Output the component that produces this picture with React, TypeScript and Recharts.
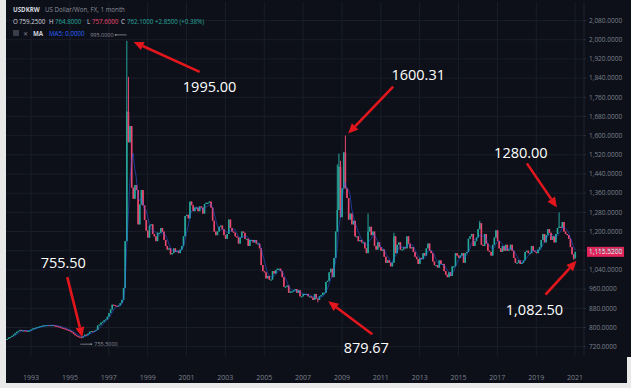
import React from 'react';
import { ComposedChart, Bar, Line, XAxis, YAxis, CartesianGrid, ReferenceDot } from 'recharts';

// monthly closes, USD/KRW, starting Oct 1991
const closes1991to1999 = [
  752, 758, 760,
  765, 770, 776, 782, 786, 790, 788, 788, 787, 786, 786, 788,
  792, 796, 798, 800, 802, 804, 806, 808, 809, 810, 810, 808,
  810, 810, 808, 806, 805, 803, 800, 798, 796, 793, 790, 788,
  785, 780, 774, 768, 764, 762, 760, 758, 764, 770, 768, 774,
  782, 785, 782, 786, 790, 808, 812, 820, 824, 830, 834, 845,
  860, 875, 895, 893, 890, 888, 892, 902, 915, 965, 1160, 1700,
  1572, 1640, 1383, 1337, 1394, 1373, 1230, 1313, 1373, 1309, 1248, 1204,
  1175, 1225, 1230, 1190, 1180, 1160, 1195, 1195, 1215, 1200, 1165, 1140,
];

const closes2000to2009 = [
  1125, 1130, 1105, 1110, 1130, 1115, 1120, 1110, 1125, 1140, 1180, 1265,
  1270, 1255, 1325, 1310, 1285, 1300, 1300, 1285, 1305, 1300, 1275, 1315,
  1320, 1320, 1325, 1300, 1245, 1200, 1185, 1200, 1220, 1225, 1210, 1185,
  1170, 1190, 1250, 1215, 1200, 1195, 1180, 1175, 1150, 1175, 1200, 1195,
  1170, 1170, 1140, 1165, 1165, 1155, 1165, 1150, 1150, 1130, 1060, 1035,
  1030, 1005, 1015, 1000, 1000, 1035, 1025, 1040, 1045, 1045, 1035, 1010,
  970, 970, 975, 945, 950, 950, 955, 960, 945, 955, 930, 930,
  940, 940, 940, 930, 930, 925, 915, 940, 920, 915, 930, 935,
  945, 945, 990, 995, 1030, 1045, 1010, 1090, 1200, 1290, 1470, 1260,
  1380, 1530, 1380, 1340, 1250, 1275, 1230, 1245, 1180, 1180, 1160, 1165,
];

const closes2010to2021 = [
  1155, 1155, 1130, 1110, 1200, 1220, 1185, 1200, 1140, 1125, 1155, 1135,
  1120, 1125, 1095, 1070, 1080, 1070, 1055, 1070, 1180, 1110, 1145, 1155,
  1125, 1125, 1135, 1130, 1180, 1150, 1130, 1135, 1115, 1095, 1085, 1065,
  1090, 1085, 1110, 1100, 1130, 1150, 1120, 1110, 1075, 1060, 1060, 1050,
  1080, 1065, 1065, 1035, 1020, 1010, 1030, 1015, 1055, 1055, 1110, 1100,
  1090, 1100, 1110, 1070, 1110, 1115, 1170, 1180, 1190, 1140, 1160, 1175,
  1210, 1235, 1145, 1140, 1190, 1150, 1120, 1115, 1100, 1145, 1175, 1205,
  1160, 1130, 1115, 1140, 1120, 1145, 1120, 1125, 1145, 1120, 1090, 1070,
  1070, 1080, 1065, 1070, 1080, 1115, 1120, 1110, 1110, 1140, 1120, 1115,
  1110, 1125, 1135, 1165, 1190, 1155, 1185, 1210, 1195, 1165, 1180, 1155,
  1190, 1215, 1220, 1215, 1240, 1200, 1190, 1185, 1170, 1135, 1105, 1088,
  1115.52,
];

// notable wicks beyond the open/close range
const highMarks: [string, number][] = [
  ['1997-12', 1995], ['1998-01', 1845], ['2008-10', 1480], ['2008-11', 1525],
  ['2008-12', 1495], ['2009-03', 1600.31], ['2010-05', 1275], ['2011-09', 1195],
  ['2016-02', 1245], ['2020-03', 1280],
];
const lowMarks: [string, number][] = [
  ['1995-08', 755.5], ['2007-10', 905], ['2020-12', 1082.5],
];

const yTicks = [720, 800, 880, 960, 1040, 1120, 1200, 1280, 1360, 1440, 1520, 1600, 1680, 1760, 1840, 1920, 2000, 2080];
const yearTicks = ['1993', '1995', '1997', '1999', '2001', '2003', '2005', '2007', '2009', '2011', '2013', '2015', '2017', '2019', '2021'];

const callouts = [
  { m: '1997-12', v: 1995, text: '1995.00' },
  { m: '1995-08', v: 755.5, text: '755.50' },
  { m: '2009-03', v: 1600.31, text: '1600.31' },
  { m: '2007-11', v: 905, text: '879.67' },
  { m: '2020-03', v: 1280, text: '1280.00' },
  { m: '2020-12', v: 1082.5, text: '1,082.50' },
];
// pixel offsets from the data point: arrow tip, arrow tail, label centre
const calloutOffsets = [
  { tip: [7, 1], tail: [73, 31], label: [83, 46] },
  { tip: [1, -1], tail: [-14, -61], label: [-18, -76] },
  { tip: [3, -2], tail: [48, -49], label: [73, -61] },
  { tip: [9, -1], tail: [53, 32], label: [47, 45] },
  { tip: [-2, -5], tail: [-32, -49], label: [-38, -60] },
  { tip: [3, 1], tail: [-28, 35], label: [-39, 50] },
];

const LAST_PRICE = 1115.52;
const MA_LEN = 5;
const START_YEAR = 1991;
const START_MONTH = 10;
const TOTAL_MONTHS = 357;

const UP = '#26a69a';
const DOWN = '#e8476f';
const BG = '#0d1019';
const GRID = '#1a1e29';
const AXIS_TEXT = '#7c808c';
const FONT = '"Open Sans", sans-serif';
const PLOT_RIGHT = 578;

const closes = [...closes1991to1999, ...closes2000to2009, ...closes2010to2021];
const highMap = Object.fromEntries(highMarks);
const lowMap = Object.fromEntries(lowMarks);

const monthKey = (i: number) => {
  const m = START_MONTH - 1 + i;
  return `${START_YEAR + Math.floor(m / 12)}-${String((m % 12) + 1).padStart(2, '0')}`;
};

const data = Array.from({ length: TOTAL_MONTHS }, (_, i) => {
  const m = monthKey(i);
  const c = closes[i];
  if (c === undefined) return { m };
  const o = i === 0 ? c : closes[i - 1];
  const h = Math.max(o, c, highMap[m] ?? -Infinity);
  const l = Math.min(o, c, lowMap[m] ?? Infinity);
  let ma: number | null = null;
  if (i >= MA_LEN - 1) {
    const win = closes.slice(i - MA_LEN + 1, i + 1);
    ma = win.reduce((s, v) => s + v, 0) / MA_LEN;
  }
  return { m, o, c, h, l, ma };
});

const Candle = (props: any) => {
  const { x, y, width, height, payload } = props;
  if (!payload || payload.c == null || y == null) return null;
  const { o, c, h, l } = payload;
  const span = h - l;
  const hgt = Math.abs(height || 0);
  const yAt = (v: number) => (span ? y + ((h - v) / span) * hgt : y);
  const color = c >= o ? UP : DOWN;
  const cx = x + width / 2;
  const top = yAt(Math.max(o, c));
  const bot = yAt(Math.min(o, c));
  return (
    <g>
      <rect x={cx - 0.5} y={y} width={1} height={Math.max(hgt, 1)} fill={color} />
      <rect x={cx - 0.8} y={top} width={1.6} height={Math.max(bot - top, 1)} fill={color} />
    </g>
  );
};

const Arrow = ({ sx, sy, tx, ty }: { sx: number; sy: number; tx: number; ty: number }) => {
  const dx = tx - sx;
  const dy = ty - sy;
  const len = Math.sqrt(dx * dx + dy * dy);
  const ux = dx / len;
  const uy = dy / len;
  const bx = tx - ux * 10;
  const by = ty - uy * 10;
  const nx = -uy * 4.5;
  const ny = ux * 4.5;
  return (
    <g>
      <line x1={sx} y1={sy} x2={bx} y2={by} stroke="#e3161d" strokeWidth={2.6} />
      <polygon points={`${tx},${ty} ${bx + nx},${by + ny} ${bx - nx},${by - ny}`} fill="#e3161d" />
    </g>
  );
};

const calloutShape = (idx: number) => (p: any) => {
  const { cx, cy } = p;
  if (cx == null || cy == null) return <g />;
  const off = calloutOffsets[idx];
  return (
    <g>
      <Arrow sx={cx + off.tail[0]} sy={cy + off.tail[1]} tx={cx + off.tip[0]} ty={cy + off.tip[1]} />
      <text
        x={cx + off.label[0]}
        y={cy + off.label[1]}
        textAnchor="middle"
        dominantBaseline="central"
        fill="#ffffff"
        fontFamily={FONT}
        fontSize={14.5}
      >
        {callouts[idx].text}
      </text>
    </g>
  );
};

const HighMarker = (p: any) => {
  const { cx, cy } = p;
  if (cx == null) return <g />;
  return (
    <g>
      <line x1={cx - 11} y1={cy - 6} x2={cx} y2={cy - 6} stroke="#8a8d96" strokeWidth={0.8} />
      <circle cx={cx - 11} cy={cy - 6} r={0.9} fill="#8a8d96" />
      <text x={cx - 13} y={cy - 6} textAnchor="end" dominantBaseline="central" fill="#8a8d96" fontFamily={FONT} fontSize={5.5}>
        995.0000
      </text>
    </g>
  );
};

const LowMarker = (p: any) => {
  const { cx, cy } = p;
  if (cx == null) return <g />;
  return (
    <g>
      <line x1={cx - 1} y1={cy + 6} x2={cx + 10} y2={cy + 6} stroke="#8a8d96" strokeWidth={0.8} />
      <circle cx={cx + 10} cy={cy + 6} r={0.9} fill="#8a8d96" />
      <text x={cx + 13} y={cy + 6} dominantBaseline="central" fill="#8a8d96" fontFamily={FONT} fontSize={5.5}>
        755.5000
      </text>
    </g>
  );
};

const PriceTag = (p: any) => {
  const { cy } = p;
  if (cy == null) return <g />;
  return (
    <g>
      <rect x={PLOT_RIGHT + 3} y={cy - 5} width={37} height={10} fill="#e3245a" />
      <text x={PLOT_RIGHT + 5} y={cy} dominantBaseline="central" fill="#ffffff" fontFamily={FONT} fontSize={6.5}>
        {LAST_PRICE.toLocaleString('en-US', { minimumFractionDigits: 4 })}
      </text>
    </g>
  );
};

const fmtPrice = (v: number) => v.toLocaleString('en-US', { minimumFractionDigits: 4, maximumFractionDigits: 4 });

const Header = () => (
  <svg width={300} height={42} style={{ position: 'absolute', left: 0, top: 0, pointerEvents: 'none' }}>
    <g fontFamily={FONT} fontSize={6.2}>
      <text x={13} y={12} fill="#d1d4dc" fontWeight="bold">USDKRW</text>
      <text x={45} y={12} fill="#8c8f99">US Dollar/Won, FX, 1 month</text>
      <text y={24}>
        <tspan x={13} fill="#d1d4dc">O</tspan>
        <tspan x={19} fill="#d1d4dc">759.2500</tspan>
        <tspan x={49} fill="#d1d4dc">H</tspan>
        <tspan x={55} fill={UP}>764.8000</tspan>
        <tspan x={87} fill="#d1d4dc">L</tspan>
        <tspan x={92} fill={DOWN}>757.6000</tspan>
        <tspan x={121} fill="#d1d4dc">C</tspan>
        <tspan x={127} fill={UP}>762.1000</tspan>
        <tspan x={155} fill={UP}>+2.8500 (+0.38%)</tspan>
      </text>
      <rect x={13} y={30} width={6} height={6} rx={1} fill="#3a3e4a" />
      <text x={23} y={36} fill="#7c808c">✕</text>
      <text x={33} y={36} fill="#d1d4dc" fontWeight="bold">MA</text>
      <text x={49} y={36} fill="#2962ff">MA5: 0.0000</text>
    </g>
  </svg>
);

export default function App() {
  return (
    <div style={{ position: 'relative', width: 631, height: 388, background: '#e9e9e9', overflow: 'hidden' }}>
      <style>{'body{margin:0}'}</style>
      <div style={{ position: 'absolute', left: 6, top: 0, width: 625, height: 383, background: BG }}>
        <ComposedChart
          width={625}
          height={383}
          data={data}
          margin={{ top: 2, right: 0, bottom: 0, left: 0 }}
          barCategoryGap={0}
        >
          <CartesianGrid stroke={GRID} syncWithTicks />
          <XAxis
            dataKey="m"
            ticks={yearTicks.map((y) => `${y}-01`)}
            interval={0}
            tickFormatter={(v: string) => v.slice(0, 4)}
            height={27}
            axisLine={false}
            tickLine={false}
            tickSize={0}
            tickMargin={19}
            tick={{ fontSize: 7, fill: AXIS_TEXT, fontFamily: FONT }}
          />
          <YAxis
            orientation="right"
            width={47}
            domain={[681.2, 2157.1]}
            allowDataOverflow
            ticks={yTicks}
            interval={0}
            tickFormatter={fmtPrice}
            axisLine={{ stroke: '#1f2330' }}
            tickLine={{ stroke: '#2a2e39' }}
            tickSize={2}
            tickMargin={3}
            tick={{ fontSize: 6.5, fill: AXIS_TEXT, fontFamily: FONT, textAnchor: 'start' }}
          />
          <Bar
            dataKey={(d: any) => (d.c == null ? undefined : [d.l, d.h])}
            shape={Candle}
            isAnimationActive={false}
          />
          <Line
            dataKey="ma"
            stroke="#2962ff"
            strokeOpacity={0.5}
            strokeWidth={1}
            dot={false}
            activeDot={false}
            isAnimationActive={false}
          />
          <ReferenceDot x="1997-12" y={1995} r={0} shape={HighMarker} />
          <ReferenceDot x="1995-08" y={755.5} r={0} shape={LowMarker} />
          <ReferenceDot x="2021-01" y={LAST_PRICE} r={0} ifOverflow="visible" shape={PriceTag} />
          {callouts.map((c, i) => (
            <ReferenceDot key={c.text} x={c.m} y={c.v} r={0} ifOverflow="visible" shape={calloutShape(i)} />
          ))}
        </ComposedChart>
        <div style={{ position: 'absolute', left: 621, top: 357, width: 4, height: 26, background: '#e9e9e9' }} />
      </div>
      <Header />
    </div>
  );
}
